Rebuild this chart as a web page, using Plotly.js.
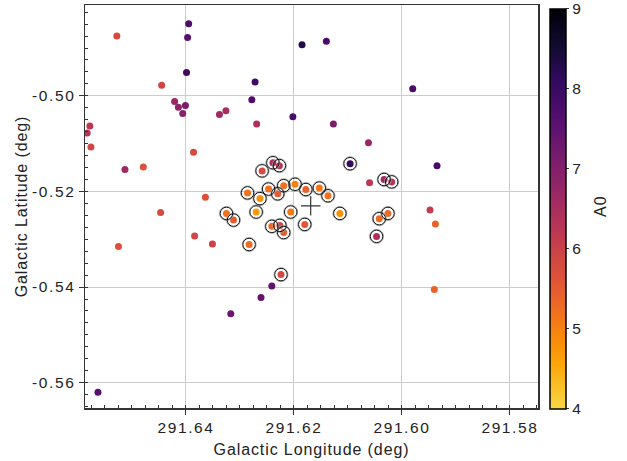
<!DOCTYPE html>
<html>
<head>
<meta charset="utf-8">
<script src="https://cdn.plot.ly/plotly-3.0.1.min.js"></script>
<style>
html,body{margin:0;padding:0;background:#fff;}
#chart{width:627px;height:461px;}
#chart svg text{letter-spacing:1.6px;}
#chart svg .g-xtitle text, #chart svg .g-ytitle text, #chart svg .annotation text{letter-spacing:0.9px;}
</style>
</head>
<body>
<div id="chart"></div>
<script>
const lon = [291.6395,291.6528,291.6397,291.6185,291.6140,291.6399,291.6445,291.6272,291.6278,291.6421,
  291.6414,291.6401,291.6406,291.6338,291.6326,291.6202,291.6269,291.6578,291.6583,291.6576,
  291.6386,291.6513,291.6479,291.6239,291.6227,291.6259,291.6286,291.6263,291.6247,291.6230,
  291.6219,291.6198,291.6178,291.6153,291.6137,291.5980,291.6127,291.6062,291.6096,291.5935,
  291.6060,291.6033,291.6019,291.6364,291.6447,291.6325,291.6312,291.6270,291.6206,291.6241,
  291.6226,291.6219,291.6180,291.6384,291.6351,291.6525,291.6283,291.6224,291.6241,291.6261,
  291.6317,291.6563,291.6115,291.6042,291.6026,291.6047,291.5948,291.5938,291.5940];
const lat = [-0.4849,-0.4875,-0.4878,-0.4893,-0.4886,-0.4951,-0.4978,-0.4971,-0.5008,-0.5012,
  -0.5024,-0.5020,-0.5037,-0.5039,-0.5031,-0.5044,-0.5059,-0.5063,-0.5078,-0.5107,
  -0.5118,-0.5154,-0.5149,-0.5140,-0.5146,-0.5157,-0.5203,-0.5215,-0.5195,-0.5205,
  -0.5188,-0.5185,-0.5196,-0.5193,-0.5209,-0.4985,-0.5059,-0.5098,-0.5142,-0.5146,
  -0.5182,-0.5175,-0.5180,-0.5212,-0.5244,-0.5246,-0.5260,-0.5243,-0.5243,-0.5273,
  -0.5271,-0.5286,-0.5269,-0.5293,-0.5310,-0.5315,-0.5311,-0.5374,-0.5398,-0.5422,
  -0.5456,-0.5620,-0.5246,-0.5257,-0.5246,-0.5294,-0.5239,-0.5268,-0.5405];
const a0 = [7.7,5.8,7.6,8.3,7.8,7.9,5.9,7.9,7.7,6.7,
  6.8,7.1,6.9,6.6,6.5,7.8,6.4,6.2,6.3,5.9,
  5.8,6.6,5.7,6.4,6.3,5.8,5.2,4.8,5.2,5.5,
  5.2,5.0,5.4,5.1,5.2,7.8,7.1,6.7,8.1,7.8,
  6.2,6.6,6.3,5.7,5.8,5.2,5.5,4.7,5.1,5.3,
  5.9,5.5,5.6,5.9,6.0,5.7,5.3,5.8,7.5,7.4,
  7.3,7.6,4.8,5.3,5.3,6.4,6.1,5.4,5.4];
const circled = [0,0,0,0,0,0,0,0,0,0,
  0,0,0,0,0,0,0,0,0,0,
  0,0,0,1,1,1,1,1,1,1,
  1,1,1,1,1,0,0,0,1,0,
  0,1,1,0,0,1,1,1,1,1,
  1,1,1,0,0,0,1,1,0,0,
  0,0,1,1,1,1,0,0,0];
const centerLon = [291.6169];
const centerLat = [-0.5230];
const xTicks = [291.64, 291.62, 291.60, 291.58];
const yTicks = [-0.50, -0.52, -0.54, -0.56];
const cTicks = [4, 5, 6, 7, 8, 9];
const cTitle = 'A0';

// inferno (reversed, truncated at 0.9)
const infernoStops = [
  [0.00,'#000004'],[0.05,'#0a0722'],[0.10,'#160b39'],[0.15,'#2e0a5a'],[0.20,'#420a68'],
  [0.25,'#57106e'],[0.30,'#6a176e'],[0.35,'#7f1e6c'],[0.40,'#932667'],[0.45,'#a82e5f'],
  [0.50,'#bc3754'],[0.55,'#cd4446'],[0.60,'#dd513a'],[0.65,'#ea632a'],[0.70,'#f37819'],
  [0.75,'#f98e09'],[0.80,'#fca50a'],[0.85,'#fac127'],[0.90,'#f6d746']];
const colorscale = infernoStops.map(s => [1 - s[0]/0.9, s[1]]).reverse();

const cLon = lon.filter((v,i)=>circled[i]);
const cLat = lat.filter((v,i)=>circled[i]);

const family = 'Liberation Sans, Arial, sans-serif';
const tickFont = {family: family, size: 15.5, color: '#222'};
const titleFont = {family: family, size: 16, color: '#222'};

const traces = [
  {x: lon, y: lat, type: 'scatter', mode: 'markers',
   marker: {size: 7, color: a0, colorscale: colorscale, cmin: 4, cmax: 9,
     line: {width: 0},
     colorbar: {x: 1.0273, xanchor: 'left', y: -0.0017, yanchor: 'bottom', len: 400, lenmode: 'pixels',
       thickness: 16, outlinecolor: '#000', outlinewidth: 1.5,
       tickmode: 'array', tickvals: cTicks, ticktext: cTicks.map(String),
       ticks: 'outside', ticklen: 3, tickcolor: '#333', tickfont: tickFont,
       ticklabeloverflow: 'allow', xpad: 0, ypad: 0}},
   showlegend: false, hoverinfo: 'skip'},
  {x: cLon, y: cLat, type: 'scatter', mode: 'markers',
   marker: {symbol: 'circle-open', size: 14, color: '#aaa', line: {width: 1, color: '#aaa'}},
   showlegend: false, hoverinfo: 'skip'},
  {x: cLon, y: cLat, type: 'scatter', mode: 'markers',
   marker: {symbol: 'circle-open', size: 12.5, color: '#111', line: {width: 1, color: '#111'}},
   showlegend: false, hoverinfo: 'skip'},
  {x: centerLon, y: centerLat, type: 'scatter', mode: 'markers',
   marker: {symbol: 'cross-thin-open', size: 14, color: '#333', line: {width: 1.2, color: '#333'}},
   showlegend: false, hoverinfo: 'skip'}
];

const layout = {
  width: 627, height: 461,
  margin: {l: 85, r: 89, t: 5, b: 53},
  paper_bgcolor: '#fff', plot_bgcolor: '#fff',
  font: tickFont,
  xaxis: {range: [291.6587, 291.5748], tickvals: xTicks, ticktext: xTicks.map(v=>v.toFixed(2)),
    showgrid: true, gridcolor: '#cccccc', gridwidth: 1, zeroline: false,
    showline: true, linecolor: '#333', linewidth: 1.5, mirror: true,
    ticks: 'outside', ticklen: 5, tickcolor: '#333',
    minor: {dtick: 0.0025, tick0: 291.58, ticks: 'inside', ticklen: 3, tickcolor: '#333', showgrid: false},
    tickfont: tickFont, title: {text: 'Galactic Longitude (deg)', font: titleFont, standoff: 8}},
  yaxis: {range: [-0.5653, -0.4810], tickvals: yTicks, ticktext: yTicks.map(v=>v.toFixed(2)),
    showgrid: true, gridcolor: '#cccccc', gridwidth: 1, zeroline: false,
    showline: true, linecolor: '#333', linewidth: 1.5, mirror: true,
    ticks: 'outside', ticklen: 5, tickcolor: '#333',
    minor: {dtick: 0.0025, tick0: -0.5, ticks: 'inside', ticklen: 3, tickcolor: '#333', showgrid: false},
    tickfont: tickFont, title: {text: 'Galactic Latitude (deg)', font: titleFont, standoff: 8}},
  annotations: [{text: cTitle, xref: 'paper', yref: 'paper', x: 1.138, y: 0.5,
    xanchor: 'center', yanchor: 'middle', textangle: -90, showarrow: false, font: titleFont}]
};

Plotly.newPlot('chart', traces, layout, {displayModeBar: false, staticPlot: true});
</script>
</body>
</html>
